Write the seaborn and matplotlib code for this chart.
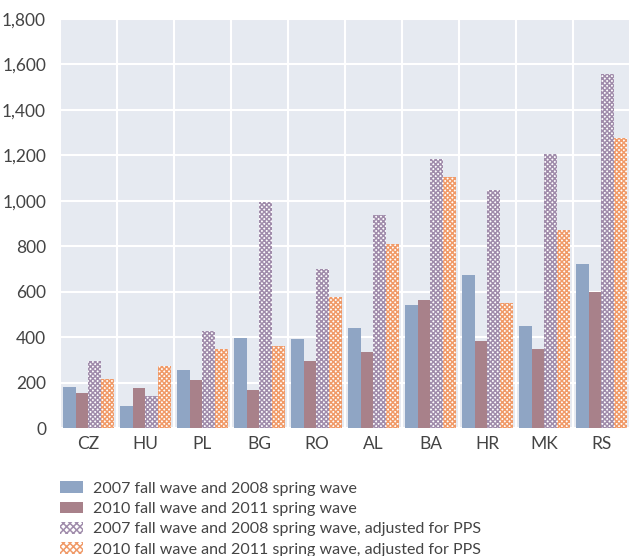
import matplotlib
matplotlib.use("Agg")
import matplotlib.pyplot as plt
import matplotlib.ticker as mticker
from matplotlib.patches import Patch
import seaborn as sns
import pandas as pd
import numpy as np

countries = ["CZ", "HU", "PL", "BG", "RO", "AL", "BA", "HR", "MK", "RS"]
series_names = [
    "2007 fall wave and 2008 spring wave",
    "2010 fall wave and 2011 spring wave",
    "2007 fall wave and 2008 spring wave, adjusted for PPS",
    "2010 fall wave and 2011 spring wave, adjusted for PPS",
]
wave_2007 = [182, 95, 254, 398, 390, 440, 541, 672, 447, 722]
wave_2010 = [153, 175, 210, 167, 296, 333, 563, 383, 348, 599]
wave_2007_pps = [296, 142, 425, 993, 700, 937, 1182, 1046, 1205, 1558]
wave_2010_pps = [217, 274, 348, 359, 578, 808, 1103, 549, 873, 1278]

rows = []
for name, vals in zip(series_names, [wave_2007, wave_2010, wave_2007_pps, wave_2010_pps]):
    for c, v in zip(countries, vals):
        rows.append({"country": c, "series": name, "value": v})
df = pd.DataFrame(rows)

sns.set_theme(style="white")
plt.rcParams["font.family"] = ["Lato", "DejaVu Sans"]

face_colors = ["#8fa5c4", "#a8818a", "#ffffff", "#ffffff"]
hatch_colors = [None, None, "#a08cab", "#f09a68"]
hatches = [None, None, "xxxxxxx", "xxxxxxx"]
plt.rcParams["hatch.linewidth"] = 1.1

fig = plt.figure(figsize=(6.3, 5.56), dpi=100)
ax = fig.add_axes([0.0952, 0.2302, 0.9048, 0.7356])
ax.set_facecolor("#e6eaf1")

sns.barplot(data=df, x="country", y="value", hue="series", palette=face_colors,
            width=0.89, gap=0, saturation=1, ax=ax, legend=False)

for i, cont in enumerate(ax.containers):
    for bar in cont:
        bar.set_linewidth(0)
        if hatches[i]:
            bar.set_facecolor(face_colors[i])
            bar.set_hatch(hatches[i])
            bar.set_edgecolor(hatch_colors[i])

ax.set_ylim(0, 1800)
ax.set_xlim(-0.5, 9.5)
ax.yaxis.set_major_locator(mticker.MultipleLocator(200))
ax.yaxis.set_major_formatter(mticker.FuncFormatter(lambda v, p: f"{int(v):,}"))
ax.set_xticks(np.arange(len(countries)))
ax.set_xticklabels(countries)
ax.set_xticks(np.arange(-0.5, len(countries), 1.0), minor=True)
ax.grid(axis="y", which="major", color="white", linewidth=1.5)
ax.grid(axis="x", which="minor", color="white", linewidth=1.5)
ax.grid(axis="x", which="major", visible=False)
ax.set_axisbelow(True)
for s in ax.spines.values():
    s.set_visible(False)
ax.tick_params(axis="both", length=0, labelsize=12.5, colors="#444444", pad=6)
ax.tick_params(axis="y", pad=10)
ax.set_xlabel("")
ax.set_ylabel("")

handles = []
for i in range(4):
    if hatches[i]:
        handles.append(Patch(facecolor=face_colors[i], edgecolor=hatch_colors[i],
                             hatch="xxxxx", linewidth=0, label=series_names[i]))
    else:
        handles.append(Patch(facecolor=face_colors[i], linewidth=0, label=series_names[i]))
leg = fig.legend(handles=handles, loc="upper left", bbox_to_anchor=(0.085, 0.146),
                 frameon=False, fontsize=11.5, handlelength=1.45, handleheight=0.75,
                 handletextpad=0.63, labelspacing=0.37, borderaxespad=0,
                 labelcolor="#444444")

fig.savefig("out.png", dpi=100)
